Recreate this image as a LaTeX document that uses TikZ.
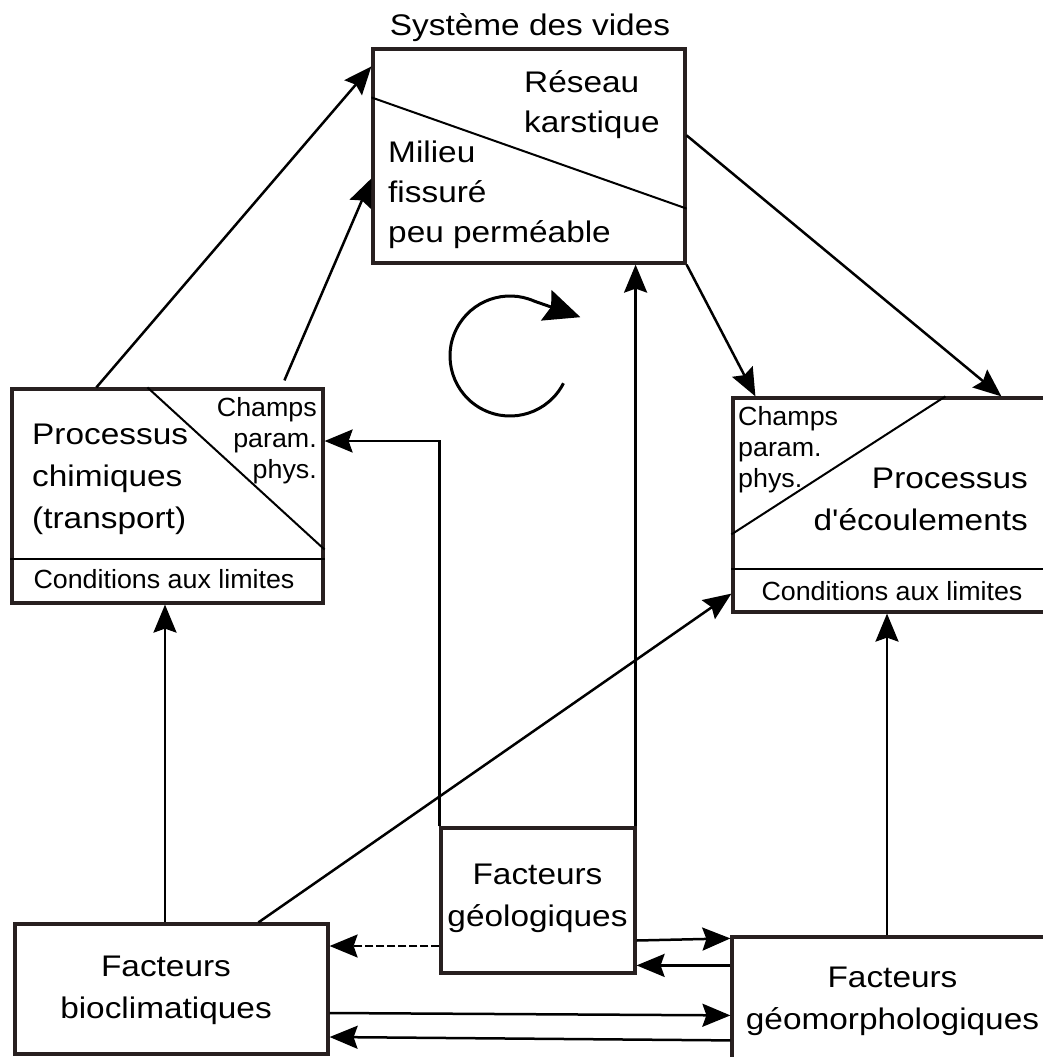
\documentclass[tikz,border=0pt]{standalone}
\usepackage{fontspec}
\newfontfamily\bigf{Liberation Sans}[FakeStretch=1.12]
\newfontfamily\smallf{Liberation Sans}[FakeStretch=1.02]
\usetikzlibrary{arrows.meta,calc}
\definecolor{boxc}{RGB}{40,32,32}
\begin{document}
\begin{tikzpicture}[x=1pt,y=-1pt,
  box/.style={draw=boxc, line width=3.2pt, inner sep=0pt, rectangle},
  conn/.style={line width=2.5pt, -{Stealth[length=28pt,width=23pt,inset=4pt]}},
  sep/.style={line width=2pt},
  bigA/.style={font=\bigf\fontsize{29.8}{40}\selectfont, inner sep=0pt},
  bigB/.style={font=\bigf\fontsize{29.8}{42}\selectfont, inner sep=0pt},
  smallA/.style={font=\smallf\fontsize{26.3}{31}\selectfont, inner sep=0pt},
]
\useasboundingbox (0,0) rectangle (1043,1057);
\clip (0,0) rectangle (1043,1057);

% boxes
\node[box, minimum width=312pt, minimum height=214pt] (vides) at (529,156) {};
\node[box, minimum width=311pt, minimum height=214pt] (chim) at (167.5,496) {};
\node[box, minimum width=315pt, minimum height=214pt] (ecoul) at (890.5,505) {};
\node[box, minimum width=313pt, minimum height=130pt] (bio) at (171.5,989) {};
\node[box, minimum width=194pt, minimum height=145pt] (geol) at (538,900.5) {};
\node[box, minimum width=316pt, minimum height=133pt] (geomorph) at (890,1003.5) {};

% dividers
\draw[sep] ([yshift=-50pt]vides.north west) -- ([yshift=56pt]vides.south east);
\draw[sep] ([xshift=137pt]chim.north west) -- ([yshift=55pt]chim.south east);
\draw[sep] ([yshift=46pt]chim.south west) -- ([yshift=46pt]chim.south east);
\draw[sep] ([yshift=-138pt]ecoul.north west) -- ([xshift=214pt]ecoul.north west);
\draw[sep] ([yshift=45pt]ecoul.south west) -- ([yshift=45pt]ecoul.south east);

% texts
\node[bigB] (t1) at (530,27.5) {Système des vides};
\node[bigA, anchor=west, align=left] (t2) at (524,105) {Réseau\\karstique};
\node[bigA, anchor=west, align=left] (t3) at (388,195) {Milieu\\fissuré\\peu perméable};
\node[bigB, anchor=west, align=left] (t4) at (32,479) {Processus\\chimiques\\(transport)};
\node[smallA, anchor=east, align=right] (t5) at (317,441) {Champs\\param.\\phys.};
\node[smallA] (t6) at (164,579) {Conditions aux limites};
\node[smallA, anchor=west, align=left] (t7) at (738,450) {Champs\\param.\\phys.};
\node[bigB, anchor=east, align=right] (t8) at (1028,499) {Processus\\d'écoulements};
\node[smallA] (t9) at (892,591) {Conditions aux limites};
\node[bigB, align=center] (t10) at (537.5,898) {Facteurs\\géologiques};
\node[bigB, align=center] (t11) at (166,990) {Facteurs\\bioclimatiques};
\node[bigB, align=center] (t12) at (892.5,1001) {Facteurs\\géomorphologiques};

% connectors
\draw[conn] ([xshift=86pt]chim.north west) -- ([yshift=-19pt]vides.north west);
\draw[conn] ([xshift=274pt,yshift=7pt]chim.north west) -- ([yshift=-131pt]vides.north west);
\draw[conn] ([yshift=-88pt]vides.north east) -- ([xshift=270pt]ecoul.north west);
\draw[conn] (vides.south east) -- ([xshift=24pt]ecoul.north west);
\coordinate (g5) at ([xshift=-1pt]geol.north east);
\draw[conn] (g5) -- (g5 |- vides.south);
\draw[conn] (geol.north west) |- ([yshift=55pt]chim.east);
\coordinate (b7) at ([xshift=-6.5pt]bio.north);
\draw[conn] (b7) -- (b7 |- chim.south);
\draw[conn] ([xshift=245pt]bio.north west) -- ([yshift=20pt]ecoul.south west);
\coordinate (m9) at ([xshift=-3pt]geomorph.north);
\draw[conn] (m9) -- (m9 |- ecoul.south);
\coordinate (g10) at ([yshift=-45.5pt]geol.west);
\draw[conn, line width=2.2pt, dash pattern=on 8pt off 3pt] (g10) -- (g10 -| bio.east);
\draw[conn] ([yshift=-40pt]geol.east) -- ([yshift=-3pt]geomorph.north west);
\coordinate (m12) at ([yshift=-30pt]geomorph.north west);
\draw[conn] (m12) -- (m12 -| geol.east);
\draw[conn] ([yshift=-24pt]bio.east) -- ([yshift=-80pt]geomorph.north west);
\draw[conn] ([yshift=-105pt]geomorph.north west) -- ([yshift=-48pt]bio.east);

% cycle arrow
\coordinate (cyc) at (510,356);
\draw[line width=3pt, -{Stealth[length=36pt,width=32pt,inset=5pt]}] (cyc) ++(27:60) arc[start angle=27, end angle=294, radius=60] -- ++(46,16);
\end{tikzpicture}
\end{document}
